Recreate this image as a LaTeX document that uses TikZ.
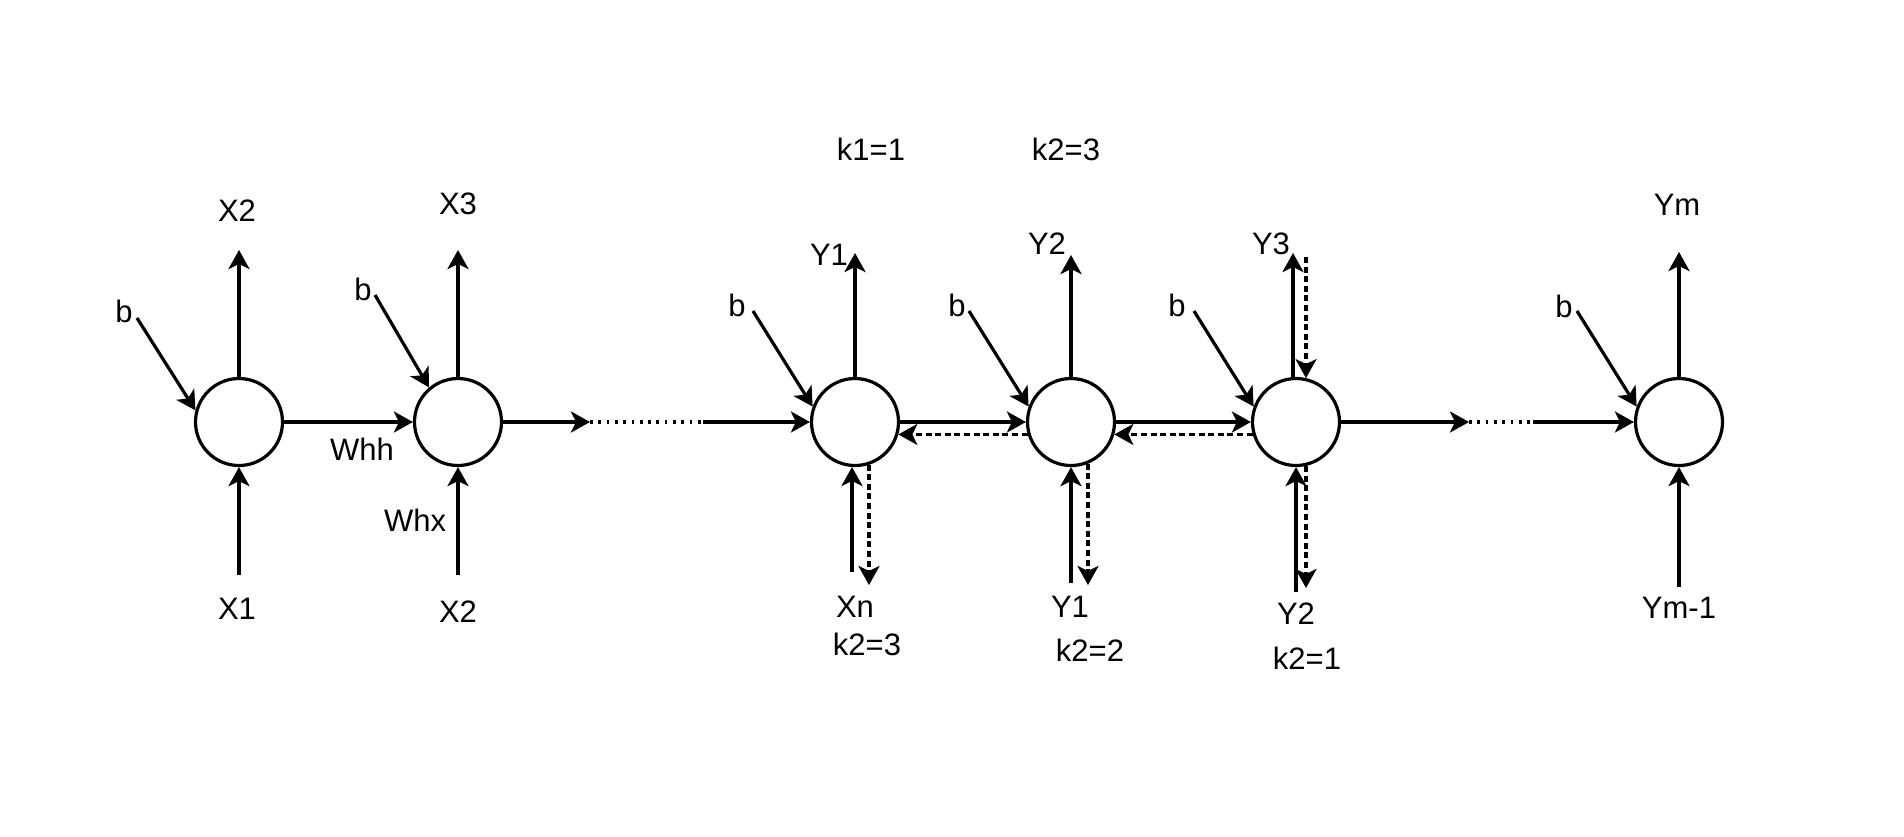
\documentclass[tikz,border=0pt]{standalone}
\usepackage{fontspec}
\setmainfont{Liberation Sans}
\usetikzlibrary{arrows.meta}
\begin{document}
\begin{tikzpicture}[x=0.5pt,y=-0.5pt,
  unit/.style={circle,draw,line width=1.6pt,minimum size=43.5pt,inner sep=0pt},
  lbl/.style={inner sep=0pt,font=\fontsize{15.5}{18}\selectfont},
  link/.style={line width=1.6pt},
  arr/.style={link,-{Stealth[length=9.5pt,width=10.5pt,inset=2.5pt]}},
  dasharr/.style={arr,dash pattern=on 3pt off 1.8pt},
  dotline/.style={link,dash pattern=on 1.35pt off 2.8pt},
]
\useasboundingbox (0,0) rectangle (1904,836);

% recurrent units
\node[unit] (c1) at (239,422) {};
\node[unit] (c2) at (458,422) {};
\node[unit] (c3) at (855,422) {};
\node[unit] (c4) at (1071,422) {};
\node[unit] (c5) at (1296,422) {};
\node[unit] (c6) at (1679,422) {};

% labels
\node[lbl] (tX2) at (237,211) {X2};
\node[lbl] (tX1) at (237,609) {X1};
\node[lbl] (tb1) at (124,311) {b};
\node[lbl] (tWhh) at (362,449) {Whh};
\node[lbl] (tX3) at (458,204) {X3};
\node[lbl] (tb2) at (363,289) {b};
\node[lbl] (tWhx) at (415,520) {Whx};
\node[lbl] (tX2b) at (458,612) {X2};
\node[lbl] (tk11) at (871,149) {k1=1};
\node[lbl] (tk23) at (1066,149) {k2=3};
\node[lbl] (tY1) at (829,255) {Y1};
\node[lbl] (tb3) at (737,305) {b};
\node[lbl] (tXn) at (855,607) {Xn};
\node[lbl] (tk23b) at (867,644) {k2=3};
\node[lbl] (tY2) at (1047,244) {Y2};
\node[lbl] (tb4) at (957,305) {b};
\node[lbl] (tY1b) at (1070,607) {Y1};
\node[lbl] (tk22) at (1090,650) {k2=2};
\node[lbl] (tY3) at (1271,244) {Y3};
\node[lbl] (tb5) at (1177,305) {b};
\node[lbl] (tY2b) at (1296,614) {Y2};
\node[lbl] (tk21) at (1307,658) {k2=1};
\node[lbl] (tYm) at (1677,205) {Ym};
\node[lbl] (tb6) at (1564,306) {b};
\node[lbl] (tYm1) at (1679,608) {Ym-1};

% free ends of the connectors
\coordinate (c1top) at (239,250);
\coordinate (c1bot) at (239,575);
\coordinate (c1b) at (137,318);
\coordinate (c2top) at (458,250);
\coordinate (c2bot) at (458,575);
\coordinate (c2b) at (375,295);
\coordinate (gap1a) at (590,422);
\coordinate (gap1b) at (703,422);
\coordinate (c3top) at (855,253);
\coordinate (c3up) at (852,572);
\coordinate (c3dn) at (869,585);
\coordinate (c3b) at (753,311);
\coordinate (c4top) at (1071,255);
\coordinate (c4up) at (1071,583);
\coordinate (c4dn) at (1088,585);
\coordinate (c4b) at (969,311);
\coordinate (c5top) at (1293,253);
\coordinate (c5topd) at (1306,257);
\coordinate (c5up) at (1296,592);
\coordinate (c5dn) at (1306,588);
\coordinate (c5b) at (1194,311);
\coordinate (gap2a) at (1469,422);
\coordinate (gap2b) at (1533,422);
\coordinate (c6top) at (1679,252);
\coordinate (c6bot) at (1679,587);
\coordinate (c6b) at (1577,311);

% encoder side
\draw[arr] (c1.north) -- (c1top);
\draw[arr] (c1bot) -- (c1.south);
\draw[arr] (c1b) -- (c1.165);
\draw[arr] (c1) -- (c2);
\draw[arr] (c2.north) -- (c2top);
\draw[arr] (c2bot) -- (c2.south);
\draw[arr] (c2b) -- (c2.130);
\draw[arr] (c2) -- (gap1a);
\draw[dotline] (gap1a) -- (gap1b);
\draw[arr] (gap1b) -- (c3);

% decoder side with backward (dashed) paths
\draw[arr] (c3.north) -- (c3top);
\draw[arr] (c3up) -- (c3up |- c3.-94);
\draw[dasharr] (c3dn |- c3.-71) -- (c3dn);
\draw[arr] (c3b) -- (c3.160);
\draw[arr] (c3) -- (c4);
\draw[dasharr] (c4.196) -- (c3.-16);

\draw[arr] (c4.north) -- (c4top);
\draw[arr] (c4up) -- (c4.south);
\draw[dasharr] (c4dn |- c4.-67) -- (c4dn);
\draw[arr] (c4b) -- (c4.160);
\draw[arr] (c4) -- (c5);
\draw[dasharr] (c5.196) -- (c4.-16);

\draw[arr] (c5top |- c5.94) -- (c5top);
\draw[dasharr] (c5topd) -- (c5topd |- c5.77);
\draw[arr] (c5up) -- (c5.south);
\draw[dasharr] (c5dn |- c5.-77) -- (c5dn);
\draw[arr] (c5b) -- (c5.160);
\draw[arr] (c5) -- (gap2a);
\draw[dotline] (gap2a) -- (gap2b);
\draw[arr] (gap2b) -- (c6);

\draw[arr] (c6.north) -- (c6top);
\draw[arr] (c6bot) -- (c6.south);
\draw[arr] (c6b) -- (c6.160);
\end{tikzpicture}
\end{document}
